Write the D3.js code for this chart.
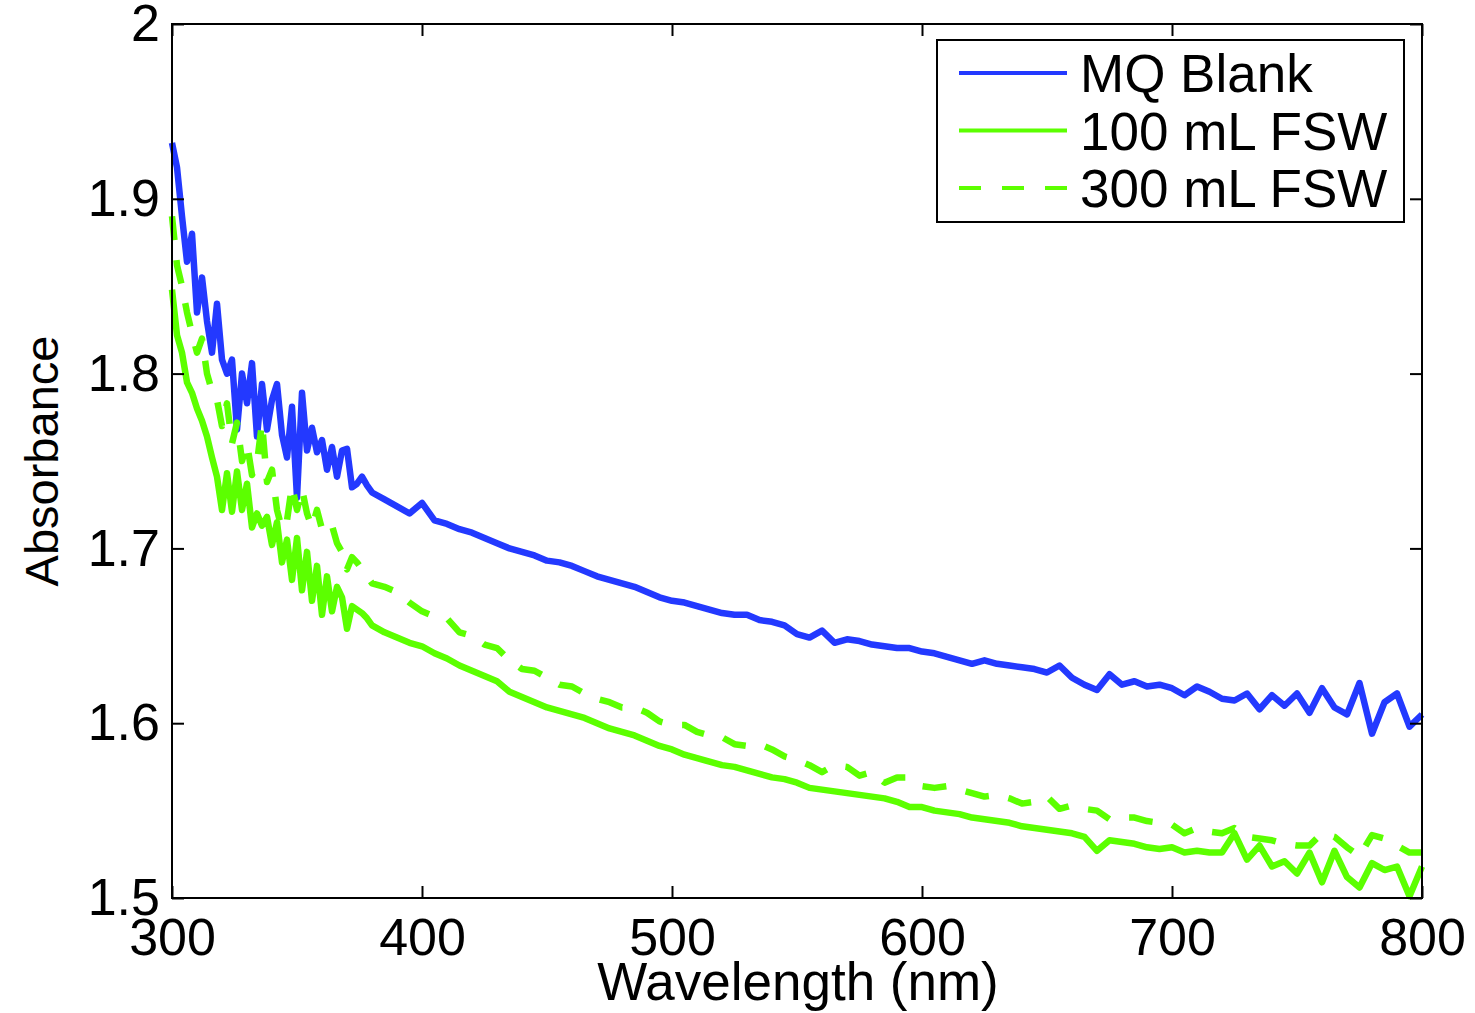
<!DOCTYPE html>
<html>
<head>
<meta charset="utf-8">
<script src="https://cdn.jsdelivr.net/npm/d3@7"></script>
<style>
  body { margin: 0; background: #fff; }
  svg { display: block; }
  text { font-family: "Liberation Sans", Arial, Helvetica, sans-serif; fill: #000; }
</style>
</head>
<body>
<svg id="chart" width="1475" height="1013"></svg>
<script>
const width = 1475, height = 1013;
const margin = { left: 172, right: 53, top: 24, bottom: 115 };

// wavelength grid (nm): 2 nm steps in the noisy UV part, 5 nm afterwards
const wavelengths = d3.range(300, 381, 2).concat(d3.range(385, 801, 5));

const mqBlank = [
  1.932, 1.918, 1.890, 1.864, 1.880, 1.835, 1.855, 1.830, 1.812, 1.840,
  1.808, 1.800, 1.808, 1.768, 1.800, 1.783, 1.806, 1.764, 1.794, 1.768,
  1.785, 1.794, 1.765, 1.752, 1.781, 1.729, 1.789, 1.756, 1.769, 1.755,
  1.762, 1.745, 1.758, 1.741, 1.756, 1.757, 1.735, 1.737, 1.741, 1.736,
  1.732,
  1.728, 1.724, 1.720, 1.726, 1.716, 1.714, 1.711, 1.709, 1.706, 1.703,
  1.700, 1.698, 1.696, 1.693, 1.692, 1.690, 1.687, 1.684, 1.682, 1.680,
  1.678, 1.675, 1.672, 1.670, 1.669, 1.667, 1.665, 1.663, 1.662, 1.662,
  1.659, 1.658, 1.656, 1.651, 1.649, 1.653, 1.646, 1.648, 1.647, 1.645,
  1.644, 1.643, 1.643, 1.641, 1.640, 1.638, 1.636, 1.634, 1.636, 1.634,
  1.633, 1.632, 1.631, 1.629, 1.633, 1.626, 1.622, 1.619, 1.628, 1.622,
  1.624, 1.621, 1.622, 1.620, 1.616, 1.621, 1.618, 1.614, 1.613, 1.617,
  1.608, 1.616, 1.610, 1.617, 1.606, 1.620, 1.609, 1.605, 1.623, 1.594,
  1.612, 1.617, 1.598, 1.605
];

const fsw100 = [
  1.848, 1.822, 1.812, 1.795, 1.789, 1.780, 1.773, 1.764, 1.752, 1.741,
  1.722, 1.743, 1.721, 1.744, 1.722, 1.737, 1.712, 1.720, 1.713, 1.718,
  1.702, 1.715, 1.692, 1.705, 1.682, 1.706, 1.676, 1.698, 1.670, 1.690,
  1.662, 1.684, 1.664, 1.678, 1.672, 1.654, 1.667, 1.665, 1.663, 1.660,
  1.656,
  1.652, 1.649, 1.646, 1.644, 1.640, 1.637, 1.633, 1.630, 1.627, 1.624,
  1.618, 1.615, 1.612, 1.609, 1.607, 1.605, 1.603, 1.600, 1.597, 1.595,
  1.593, 1.590, 1.587, 1.585, 1.582, 1.580, 1.578, 1.576, 1.575, 1.573,
  1.571, 1.569, 1.568, 1.566, 1.563, 1.562, 1.561, 1.560, 1.559, 1.558,
  1.557, 1.555, 1.552, 1.552, 1.550, 1.549, 1.548, 1.546, 1.545, 1.544,
  1.543, 1.541, 1.540, 1.539, 1.538, 1.537, 1.535, 1.527, 1.533, 1.532,
  1.531, 1.529, 1.528, 1.529, 1.526, 1.527, 1.526, 1.526, 1.537, 1.522,
  1.530, 1.518, 1.521, 1.514, 1.526, 1.509, 1.527, 1.512, 1.506, 1.520,
  1.516, 1.518, 1.501, 1.518
];

const fsw300 = [
  1.890, 1.862, 1.850, 1.835, 1.823, 1.812, 1.820, 1.800, 1.790, 1.785,
  1.770, 1.783, 1.760, 1.772, 1.750, 1.760, 1.742, 1.749, 1.772, 1.738,
  1.745, 1.722, 1.711, 1.716, 1.736, 1.722, 1.734, 1.720, 1.712, 1.722,
  1.711, 1.715, 1.713, 1.703, 1.698, 1.688, 1.695, 1.692, 1.688, 1.684,
  1.680,
  1.678, 1.675, 1.669, 1.664, 1.661, 1.660, 1.652, 1.650, 1.645, 1.643,
  1.636, 1.631, 1.630, 1.626, 1.622, 1.621, 1.617, 1.614, 1.612, 1.609,
  1.609, 1.606, 1.601, 1.599, 1.599, 1.595, 1.593, 1.592, 1.588, 1.587,
  1.588, 1.585, 1.581, 1.579, 1.576, 1.572, 1.576, 1.575, 1.570, 1.572,
  1.566, 1.569, 1.569, 1.564, 1.563, 1.564, 1.562, 1.560, 1.558, 1.559,
  1.557, 1.554, 1.555, 1.558, 1.551, 1.553, 1.551, 1.550, 1.545, 1.546,
  1.546, 1.544, 1.543, 1.542, 1.537, 1.540, 1.538, 1.537, 1.540, 1.535,
  1.534, 1.533, 1.531, 1.530, 1.530, 1.537, 1.535, 1.529, 1.524, 1.536,
  1.534, 1.530, 1.526, 1.526
];

const xTicks = [300, 400, 500, 600, 700, 800];
const yTicks = [1.5, 1.6, 1.7, 1.8, 1.9, 2];

const series = [
  { label: "MQ Blank", values: mqBlank, color: "#2339ff", dash: null },
  { label: "100 mL FSW", values: fsw100, color: "#5cff00", dash: null },
  { label: "300 mL FSW", values: fsw300, color: "#5cff00", dash: "24,20" }
];

const svg = d3.select("#chart");

const x = d3.scaleLinear().domain([300, 800]).range([margin.left, width - margin.right]);
const y = d3.scaleLinear().domain([1.5, 2]).range([height - margin.bottom, margin.top]);

const line = d3.line()
  .x((d, i) => x(wavelengths[i]))
  .y(d => y(d));

// data lines
series.forEach(s => {
  svg.append("path")
    .datum(s.values)
    .attr("fill", "none")
    .attr("stroke", s.color)
    .attr("stroke-width", 6.5)
    .attr("stroke-linejoin", "round")
    .attr("stroke-dasharray", s.dash)
    .attr("d", line);
});

// axes box and inward ticks (MATLAB style)
const x0 = x.range()[0], x1 = x.range()[1];
const y0 = y.range()[0], y1 = y.range()[1];
const tickLen = 12;

svg.append("rect")
  .attr("x", x0).attr("y", y1)
  .attr("width", x1 - x0).attr("height", y0 - y1)
  .attr("fill", "none").attr("stroke", "#000").attr("stroke-width", 2);

const bottomAxis = d3.axisBottom(x).tickValues(xTicks).tickSizeInner(-tickLen).tickSizeOuter(0).tickPadding(20);
const topAxis = d3.axisTop(x).tickValues(xTicks).tickSizeInner(-tickLen).tickSizeOuter(0).tickFormat("");
const leftAxis = d3.axisLeft(y).tickValues(yTicks).tickSizeInner(-tickLen).tickSizeOuter(0).tickPadding(12).tickFormat(d3.format("~g"));
const rightAxis = d3.axisRight(y).tickValues(yTicks).tickSizeInner(-tickLen).tickSizeOuter(0).tickFormat("");

function styleAxis(g) {
  g.select(".domain").remove();
  g.selectAll(".tick line").attr("stroke", "#000").attr("stroke-width", 2);
  g.selectAll(".tick text")
    .style("font-family", "'Liberation Sans', Arial, sans-serif")
    .style("font-size", "52px")
    .attr("fill", "#000");
}

svg.append("g").attr("transform", `translate(0,${y0})`).call(bottomAxis).call(styleAxis);
svg.append("g").attr("transform", `translate(0,${y1})`).call(topAxis).call(styleAxis);
svg.append("g").attr("transform", `translate(${x0},0)`).call(leftAxis).call(styleAxis);
svg.append("g").attr("transform", `translate(${x1},0)`).call(rightAxis).call(styleAxis);

// axis labels
svg.append("text")
  .attr("x", (x0 + x1) / 2 + 1)
  .attr("y", 1000)
  .attr("text-anchor", "middle")
  .attr("font-size", "53px")
  .text("Wavelength (nm)");

svg.append("text")
  .attr("transform", `translate(58,${(y0 + y1) / 2}) rotate(-90)`)
  .attr("text-anchor", "middle")
  .attr("font-size", "47px")
  .text("Absorbance");

// legend
const legend = svg.append("g").attr("transform", "translate(937,40)");
legend.append("rect")
  .attr("width", 467).attr("height", 182)
  .attr("fill", "#fff").attr("stroke", "#000").attr("stroke-width", 2);

series.forEach((s, i) => {
  const ly = 33 + i * 57.5;
  legend.append("line")
    .attr("x1", 22).attr("x2", 130)
    .attr("y1", ly).attr("y2", ly)
    .attr("stroke", s.color)
    .attr("stroke-width", 4)
    .attr("stroke-dasharray", s.dash ? "22,21" : null);
  legend.append("text")
    .attr("x", 143)
    .attr("y", ly + 19)
    .attr("font-size", "53px")
    .text(s.label);
});
</script>
</body>
</html>
